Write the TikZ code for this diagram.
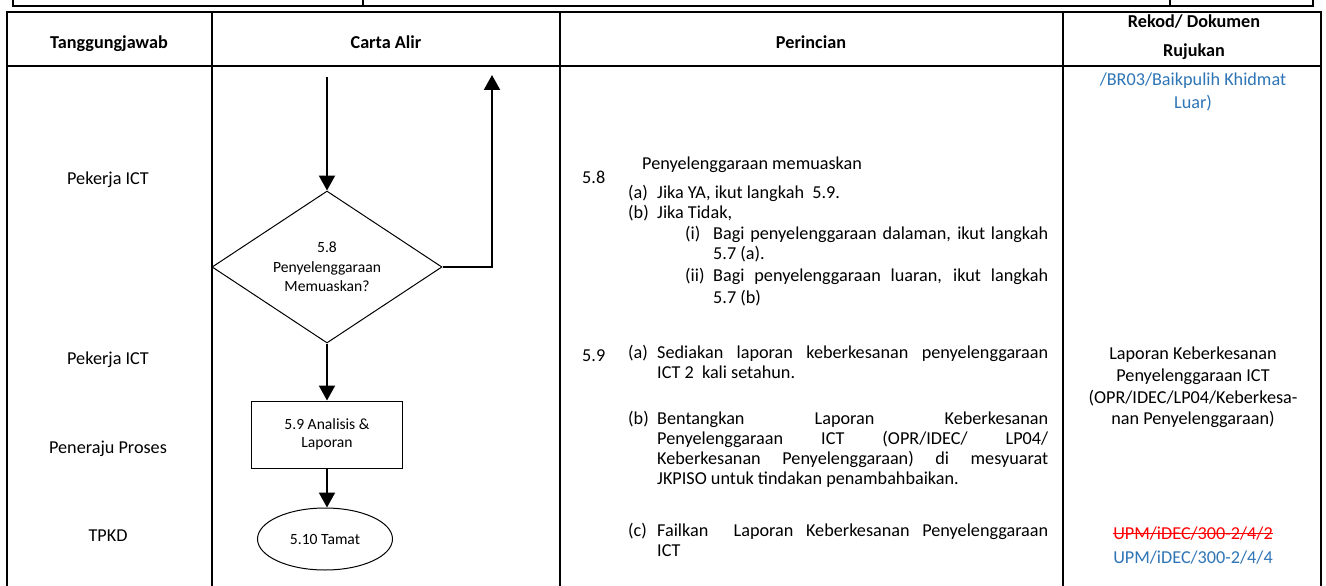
\documentclass[tikz,border=0pt]{standalone}
\usepackage{fontspec}
\setmainfont{Carlito}
\usetikzlibrary{shapes.geometric,arrows.meta}
\definecolor{refblue}{HTML}{2E75B6}
\definecolor{refred}{HTML}{FF0000}
\begin{document}
\begin{tikzpicture}[x=1pt,y=-1pt,
  grid/.style={line width=2.4pt},
  topgrid/.style={line width=2pt},
  txt/.style={inner sep=0pt,font=\fontsize{18.2}{21}\selectfont},
  hdr/.style={inner sep=0pt,font=\fontsize{18.2}{21}\selectfont\bfseries},
  flow/.style={draw,line width=1pt,inner sep=0pt,align=center,font=\fontsize{15.6}{19.5}\selectfont},
  flowarrow/.style={line width=2.2pt,-{Triangle[width=16pt,length=15pt]}},
]
\useasboundingbox (0,0) rectangle (1326,586);
\fill[white] (0,0) rectangle (1326,586);

% top strip
\coordinate (ta) at (13,0);  \coordinate (tb) at (13,6);
\coordinate (tc) at (1313,0); \coordinate (td) at (1313,6);
\draw[topgrid] (ta) -- (tb) -- (td) -- (tc);
\draw[topgrid] (363,0) -- (363,6);
\draw[topgrid] (1170,0) -- (1170,6);

% main table
\draw[grid] (7,586) -- (7,12) -- (1321,12) -- (1321,586);
\draw[grid] (7,66) -- (1321,66);
\draw[grid] (212,12) -- (212,586);
\draw[grid] (560,12) -- (560,586);
\draw[grid] (1063,12) -- (1063,586);

% headers
\node[hdr,anchor=base] (h1) at (109,49) {Tanggungjawab};
\node[hdr,anchor=base] (h2) at (386,49) {Carta Alir};
\node[hdr,anchor=base] (h3) at (811,49) {Perincian};
\node[hdr,anchor=base] (h4a) at (1194,28) {Rekod/ Dokumen};
\node[hdr,anchor=base] (h4b) at (1194,57) {Rujukan};

% left column
\node[txt,anchor=base] (l1) at (108,184) {Pekerja ICT};
\node[txt,anchor=base] (l2) at (108,364) {Pekerja ICT};
\node[txt,anchor=base] (l3) at (108,453) {Peneraju Proses};
\node[txt,anchor=base] (l4) at (108,541) {TPKD};

% flowchart
\coordinate (start) at (327,77);
\node[flow,diamond,aspect=1.51,minimum width=230pt,minimum height=152pt] (dec) at (327,267) {5.8\\Penyelenggaraan\\Memuaskan?};
\node[flow,rectangle,minimum width=151pt,minimum height=67pt,font=\fontsize{15.6}{18}\selectfont] (ana) at (327,434.5) {5.9 Analisis \&\\Laporan};
\node[flow,ellipse,minimum width=135pt,minimum height=62pt] (end) at (325,539) {5.10 Tamat};
\coordinate (loopup) at (492,75);
\draw[flowarrow] (start) -- (dec.north);
\draw[flowarrow] (dec.east) -| (loopup);
\draw[flowarrow] (dec.south) -- (dec.south |- ana.north);
\draw[flowarrow] (ana.south) -- (ana.south |- end.north);

% Perincian 5.8
\node[txt,anchor=base west] (p58) at (582,183) {5.8};
\node[txt,anchor=base west] (p58t) at (642,169) {Penyelenggaraan memuaskan};
\node[txt,anchor=base west] (p58a) at (628,198) {(a)};
\node[txt,anchor=base west] (p58at) at (657,198) {Jika YA, ikut langkah\ \ 5.9.};
\node[txt,anchor=base west] (p58b) at (628,218) {(b)};
\node[txt,anchor=base west] (p58bt) at (657,218) {Jika Tidak,};
\node[txt,anchor=base west] (p58i) at (685,239) {(i)};
\node[txt,anchor=base west] (p58it) at (713,239) {\makebox[335pt][s]{Bagi penyelenggaraan dalaman, ikut langkah}};
\node[txt,anchor=base west] (p58it2) at (713,259) {5.7 (a).};
\node[txt,anchor=base west] (p58ii) at (685,281) {(ii)};
\node[txt,anchor=base west] (p58iit) at (713,281) {\makebox[335pt][s]{Bagi penyelenggaraan luaran, ikut langkah}};
\node[txt,anchor=base west] (p58iit2) at (713,303) {5.7 (b)};

% Perincian 5.9
\node[txt,anchor=base west] (p59) at (582,361) {5.9};
\node[txt,anchor=base west] (p59a) at (628,358) {(a)};
\node[txt,anchor=base west] (p59at) at (657,358) {\makebox[391pt][s]{Sediakan laporan keberkesanan penyelenggaraan}};
\node[txt,anchor=base west] (p59at2) at (657,378) {ICT 2\ \ kali setahun.};
\node[txt,anchor=base west] (p59b) at (628,424) {(b)};
\node[txt,anchor=base west] (p59bt1) at (657,424) {\makebox[391pt][s]{Bentangkan Laporan Keberkesanan}};
\node[txt,anchor=base west] (p59bt2) at (657,444) {\makebox[391pt][s]{Penyelenggaraan ICT (OPR/IDEC/ LP04/}};
\node[txt,anchor=base west] (p59bt3) at (657,464) {\makebox[391pt][s]{Keberkesanan Penyelenggaraan) di mesyuarat}};
\node[txt,anchor=base west] (p59bt4) at (657,484) {JKPISO untuk tindakan penambahbaikan.};
\node[txt,anchor=base west] (p59c) at (628,536) {(c)};
\node[txt,anchor=base west] (p59ct1) at (657,536) {\makebox[391pt][s]{Failkan\ \ Laporan Keberkesanan Penyelenggaraan}};
\node[txt,anchor=base west] (p59ct2) at (657,556) {ICT};

% Rekod column
\node[txt,anchor=base,text=refblue] (r1) at (1193,85) {/BR03/Baikpulih Khidmat};
\node[txt,anchor=base,text=refblue] (r2) at (1193,108) {Luar)};
\node[txt,anchor=base] (r3) at (1193,359) {Laporan Keberkesanan};
\node[txt,anchor=base] (r4) at (1193,381) {Penyelenggaraan ICT};
\node[txt,anchor=base] (r5) at (1193,403) {(OPR/IDEC/LP04/Keberkesa-};
\node[txt,anchor=base] (r6) at (1193,424) {nan Penyelenggaraan)};
\node[txt,anchor=base,text=refred] (r7) at (1193,539) {UPM/iDEC/300-2/4/2};
\draw[refred,line width=1.4pt] ([yshift=5.5pt]r7.base west) -- ([yshift=5.5pt]r7.base east);
\node[txt,anchor=base,text=refblue] (r8) at (1193,563) {UPM/iDEC/300-2/4/4};
\end{tikzpicture}
\end{document}
